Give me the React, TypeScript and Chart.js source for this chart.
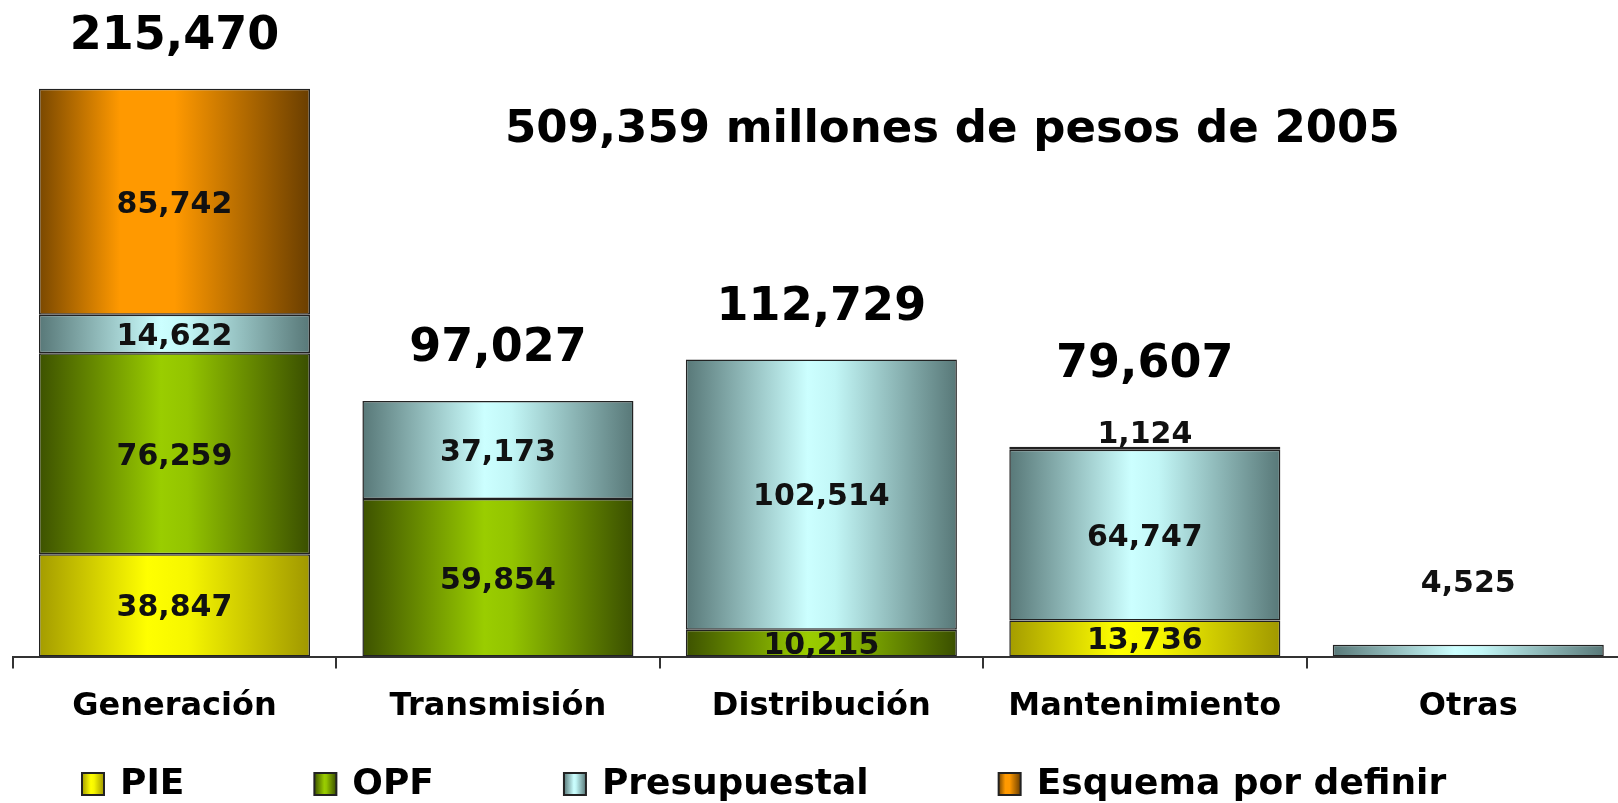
import React, { useEffect, useRef } from "react";
import { Chart, registerables } from "chart.js";

Chart.register(...registerables);

// ---------- data ----------
const categories = ["Generación", "Transmisión", "Distribución", "Mantenimiento", "Otras"];
const seriesNames = ["PIE", "OPF", "Presupuestal", "Esquema por definir"];
const pieValues = [38847, null, null, 13736, null];
const opfValues = [76259, 59854, 10215, null, null];
const presupuestalValues = [14622, 37173, 102514, 64747, 4525];
const esquemaValues = [85742, null, null, 1124, null];
const totalLabels = ["215,470", "97,027", "112,729", "79,607", ""];
const titleText = "509,359 millones de pesos de 2005";

// ---------- styles ----------
const FONT = "'DejaVu Sans', Verdana, sans-serif";
const BAR_PCT = 0.838;
type Stop = [number, string];
const pieStops: Stop[] = [[0, "#a49c00"], [0.4, "#ffff00"], [0.55, "#f6f600"], [1, "#a09800"]];
const opfStops: Stop[] = [[0, "#3d5200"], [0.45, "#9acd00"], [0.55, "#93c400"], [1, "#3a4f00"]];
const presStops: Stop[] = [[0, "#587878"], [0.45, "#ccffff"], [0.55, "#c2f6f6"], [1, "#587878"]];
const esqStops: Stop[] = [[0, "#7a4800"], [0.3, "#ff9900"], [0.5, "#ff9900"], [1, "#6a3e00"]];
const seriesStops = [pieStops, opfStops, presStops, esqStops];
const seriesValues = [pieValues, opfValues, presupuestalValues, esquemaValues];

// labels drawn above a segment instead of centred: key "dataset-index" -> px above top
const outsideLabelOffset: Record<string, number> = { "3-3": 12, "2-4": 60 };

const fmt = (v: number) => v.toLocaleString("en-US");

function makeBg(stops: Stop[]) {
  return (ctx: any) => {
    const chart = ctx.chart;
    const xs = chart.scales && chart.scales.x;
    if (!xs || ctx.dataIndex === undefined || !chart.chartArea) return stops[1][1];
    const cx = xs.getPixelForValue(ctx.dataIndex);
    const w = (xs.width / categories.length) * BAR_PCT;
    const g = chart.ctx.createLinearGradient(cx - w / 2, 0, cx + w / 2, 0);
    stops.forEach(([o, c]) => g.addColorStop(o, c));
    return g;
  };
}

const valueLabelsPlugin = {
  id: "valueLabels",
  afterDatasetsDraw(chart: any) {
    const ctx = chart.ctx;
    ctx.save();
    ctx.textAlign = "center";
    ctx.textBaseline = "middle";
    ctx.fillStyle = "#111";
    ctx.font = `bold 30px ${FONT}`;
    const tops: number[] = categories.map(() => Infinity);
    const hasAbove: boolean[] = categories.map(() => false);
    chart.data.datasets.forEach((ds: any, di: number) => {
      const meta = chart.getDatasetMeta(di);
      meta.data.forEach((el: any, i: number) => {
        const v = ds.data[i];
        if (v == null) return;
        const { x, y, base } = el.getProps(["x", "y", "base"], true);
        tops[i] = Math.min(tops[i], y);
        const off = outsideLabelOffset[`${di}-${i}`];
        if (off !== undefined) {
          hasAbove[i] = true;
          ctx.fillText(fmt(v), x, y - off);
        } else {
          ctx.fillText(fmt(v), x, (y + base) / 2 + 3);
        }
      });
    });
    // totals
    ctx.font = `bold 46px ${FONT}`;
    ctx.fillStyle = "#000";
    const xs = chart.scales.x;
    totalLabels.forEach((t, i) => {
      if (!t) return;
      const x = xs.getPixelForValue(i);
      const y = tops[i] - 52 - (hasAbove[i] ? 30 : 0);
      ctx.fillText(t, x, y);
    });
    // title
    const ca = chart.chartArea;
    ctx.font = `bold 45px ${FONT}`;
    ctx.fillText(titleText, ca.left + (ca.right - ca.left) * 0.581, 130);
    ctx.restore();
  },
};

const legendPlugin = {
  id: "customLegend",
  afterDraw(chart: any) {
    const ctx = chart.ctx;
    ctx.save();
    ctx.font = `bold 36px ${FONT}`;
    ctx.textBaseline = "middle";
    ctx.textAlign = "left";
    const cy = 784;
    const box = 22;
    let x = 82;
    seriesNames.forEach((name, si) => {
      const g = ctx.createLinearGradient(x, 0, x + box, 0);
      seriesStops[si].forEach(([o, c]) => g.addColorStop(o, c));
      ctx.fillStyle = g;
      ctx.fillRect(x, cy - box / 2, box, box);
      ctx.lineWidth = 2;
      ctx.strokeStyle = "#222";
      ctx.strokeRect(x, cy - box / 2, box, box);
      ctx.fillStyle = "#000";
      const tx = x + box + 16;
      ctx.fillText(name, tx, cy + 1);
      x = tx + ctx.measureText(name).width + 130;
    });
    ctx.restore();
  },
};

export default function App() {
  const ref = useRef<HTMLCanvasElement | null>(null);
  useEffect(() => {
    const canvas = ref.current;
    if (!canvas) return;
    const chart = new Chart(canvas, {
      type: "bar",
      data: {
        labels: categories,
        datasets: seriesNames.map((name, si) => ({
          label: name,
          data: seriesValues[si] as any,
          backgroundColor: makeBg(seriesStops[si]) as any,
          borderColor: "#222",
          borderWidth: 1.5,
          borderSkipped: false,
          barPercentage: BAR_PCT,
          categoryPercentage: 1,
        })),
      },
      options: {
        animation: false,
        responsive: true,
        maintainAspectRatio: false,
        layout: { padding: { left: 12.75, right: 10, top: 11, bottom: 58 } },
        plugins: {
          legend: { display: false },
          tooltip: { enabled: false },
          title: { display: false },
        },
        scales: {
          x: {
            stacked: true,
            offset: true,
            grid: {
              offset: true,
              drawOnChartArea: false,
              drawTicks: true,
              tickLength: 12,
              color: "#333",
              lineWidth: 2,
            },
            border: { display: true, color: "#333", width: 2 },
            ticks: {
              font: { family: FONT, size: 32, weight: "bold" },
              color: "#000",
              padding: 19,
              maxRotation: 0,
              autoSkip: false,
            },
          },
          y: { stacked: true, display: false, min: 0, max: 245000 },
        },
      },
      plugins: [valueLabelsPlugin, legendPlugin],
    });
    return () => chart.destroy();
  }, []);
  return (
    <div
      style={{
        position: "absolute",
        left: 0,
        top: 0,
        width: 1618,
        height: 803,
        overflow: "hidden",
        background: "#fff",
      }}
    >
      <div style={{ position: "relative", width: 1640, height: 803 }}>
        <canvas ref={ref} />
      </div>
    </div>
  );
}
